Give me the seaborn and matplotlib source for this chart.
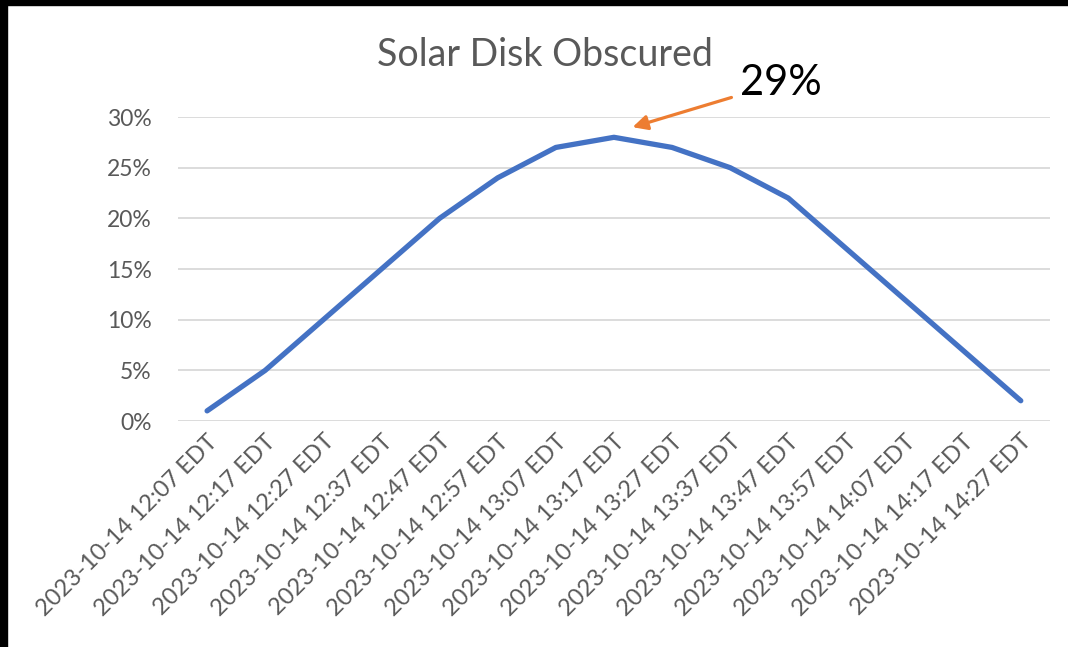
import matplotlib
matplotlib.use('Agg')
import matplotlib.pyplot as plt
import matplotlib.patches as patches
from matplotlib.ticker import PercentFormatter
import seaborn as sns
import pandas as pd

# Data
times = ['2023-10-14 12:07 EDT', '2023-10-14 12:17 EDT', '2023-10-14 12:27 EDT',
         '2023-10-14 12:37 EDT', '2023-10-14 12:47 EDT', '2023-10-14 12:57 EDT',
         '2023-10-14 13:07 EDT', '2023-10-14 13:17 EDT', '2023-10-14 13:27 EDT',
         '2023-10-14 13:37 EDT', '2023-10-14 13:47 EDT', '2023-10-14 13:57 EDT',
         '2023-10-14 14:07 EDT', '2023-10-14 14:17 EDT', '2023-10-14 14:27 EDT']
obscured = [0.01, 0.05, 0.10, 0.15, 0.20, 0.24, 0.27, 0.28, 0.27, 0.25,
            0.22, 0.17, 0.12, 0.07, 0.02]
peak_label = '29%'
peak_value = 0.29

df = pd.DataFrame({'Time': times, 'Obscured': obscured})

sns.set_style('white')
plt.rcParams['font.family'] = ['Lato', 'DejaVu Sans']

fig = plt.figure(figsize=(10.68, 6.47), dpi=100)
ax = fig.add_axes([0.1667, 0.3493, 0.8163, 0.4698])

sns.lineplot(data=df, x='Time', y='Obscured', ax=ax, color='#4472C4',
             linewidth=3.8, sort=False)
ax.lines[0].set_solid_capstyle('round')
ax.lines[0].set_solid_joinstyle('round')

ax.set_xlim(-0.5, len(times) - 0.5)
ax.set_ylim(0, 0.30)
ax.set_yticks([0, 0.05, 0.10, 0.15, 0.20, 0.25, 0.30])
ax.yaxis.set_major_formatter(PercentFormatter(1.0, decimals=0))
ax.grid(axis='y', color='#D9D9D9', linewidth=1.3)
ax.grid(axis='x', visible=False)
ax.set_axisbelow(True)
for s in ax.spines.values():
    s.set_visible(False)
ax.set_xlabel('')
ax.set_ylabel('')
ax.tick_params(axis='both', length=0, labelcolor='#595959')
ax.tick_params(axis='x', labelsize=17, pad=7)
ax.tick_params(axis='y', labelsize=16.5, pad=19)
plt.setp(ax.get_xticklabels(), rotation=45, ha='right', rotation_mode='anchor')

fig.text(0.51, 0.915, 'Solar Disk Obscured', ha='center', va='center',
         fontsize=27, color='#595959')

ax.annotate(peak_label, xy=(7.32, peak_value), xytext=(9.17, 0.334),
            textcoords='data', fontsize=30, color='black', va='center', ha='left',
            arrowprops=dict(arrowstyle='-|>', color='#ED7D31', lw=2.3,
                            mutation_scale=22, shrinkA=4, shrinkB=0),
            annotation_clip=False)

# black edges of the screenshot
fig.patches.append(patches.Rectangle((0, 0), 7 / 1068, 1, transform=fig.transFigure,
                                     color='black', zorder=10))
fig.patches.append(patches.Rectangle((0, 1 - 5 / 647), 1, 5 / 647,
                                     transform=fig.transFigure, color='black', zorder=10))

plt.savefig('out.png', dpi=100)
plt.close()
